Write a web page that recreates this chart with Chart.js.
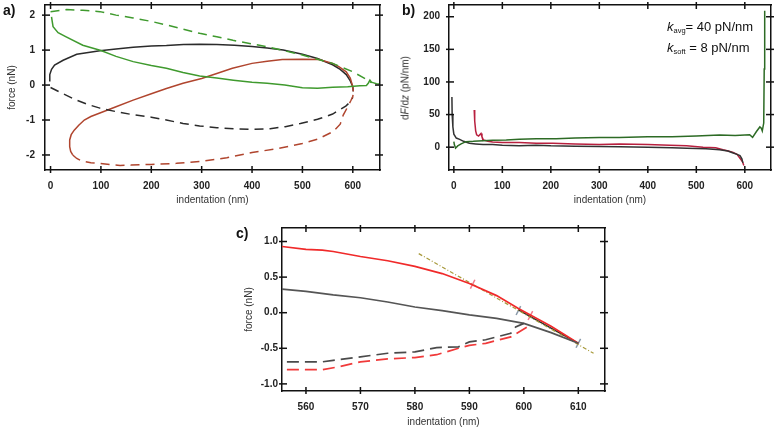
<!DOCTYPE html>
<html>
<head>
<meta charset="utf-8">
<script src="https://cdn.jsdelivr.net/npm/chart.js@4.4.1/dist/chart.umd.min.js"></script>
<style>
  body { margin: 0; background: #fff; }
  #wrap { position: relative; width: 779px; height: 431px; background: #fff; font-family: "Liberation Sans", Arial, sans-serif; }
  canvas { position: absolute; }
  .lab { position: absolute; font-weight: bold; font-size: 14px; line-height: 14px; color: #111; }
  .rot { position: absolute; font-size: 10px; color: #333; white-space: nowrap; transform: translate(-50%, -50%) rotate(-90deg); }
  .kk { position: absolute; font-size: 13px; color: #111; white-space: nowrap; line-height: 14px; }
  .kk sub { font-size: 7.5px; vertical-align: -2px; }
</style>
</head>
<body>
<div id="wrap">
  <canvas id="ca" width="390" height="210" style="left:0;top:0"></canvas>
  <canvas id="cb" width="389" height="210" style="left:390px;top:0"></canvas>
  <canvas id="cc" width="420" height="221" style="left:210px;top:210px"></canvas>
  <div class="lab" style="left:3px;top:3px">a)</div>
  <div class="lab" style="left:402px;top:3px">b)</div>
  <div class="lab" style="left:236px;top:226px">c)</div>
  <div class="rot" style="left:405px;top:88px">d<i>F</i>/d<i>z</i> (pN/nm)</div>
  <div class="kk" style="left:667px;top:20px"><i>k</i><sub>avg</sub>= 40 pN/nm</div>
  <div class="kk" style="left:667px;top:41px"><i>k</i><sub>soft</sub> = 8 pN/nm</div>
</div>
<script>
// ---- panel a: force vs indentation ----
const aBlackX = [-3, -1.5, 2, 8, 25, 52, 98, 130, 164, 200, 230, 264, 296, 330, 365, 400, 430, 462, 500, 530, 560, 575, 587, 595, 600, 601];
const aBlackY = [0.12, 0.3, 0.45, 0.57, 0.71, 0.88, 0.98, 1.03, 1.08, 1.12, 1.13, 1.16, 1.17, 1.16, 1.14, 1.1, 1.06, 1.0, 0.88, 0.76, 0.58, 0.45, 0.3, 0.12, -0.05, -0.18];
const aBlackDashX = [0, 25, 51, 75, 98, 130, 164, 200, 230, 263, 296, 330, 365, 400, 436, 466, 496, 530, 560, 586, 596, 600];
const aBlackDashY = [-0.07, -0.25, -0.43, -0.56, -0.66, -0.76, -0.85, -0.92, -1.0, -1.1, -1.17, -1.22, -1.25, -1.27, -1.25, -1.19, -1.1, -0.98, -0.83, -0.6, -0.47, -0.35];
const aRedX = [44, 40, 38, 38, 41, 47, 56, 67, 80, 98, 130, 164, 200, 230, 263, 300, 330, 361, 400, 430, 460, 500, 533, 560, 573, 587, 595, 600, 601];
const aRedY = [-2.0, -1.9, -1.76, -1.57, -1.42, -1.29, -1.15, -1.0, -0.9, -0.8, -0.62, -0.43, -0.25, -0.1, 0.05, 0.19, 0.33, 0.48, 0.62, 0.68, 0.73, 0.74, 0.73, 0.62, 0.52, 0.38, 0.2, -0.05, -0.18];
const aRedDashX = [44, 52, 62, 80, 98, 120, 138, 160, 200, 250, 300, 350, 400, 450, 500, 530, 561, 575, 581, 590, 596, 600, 601];
const aRedDashY = [-2.0, -2.1, -2.17, -2.22, -2.24, -2.28, -2.3, -2.29, -2.27, -2.24, -2.18, -2.08, -1.93, -1.82, -1.67, -1.55, -1.33, -1.12, -0.86, -0.62, -0.45, -0.33, -0.22];
const aGreenX = [2, 3, 5, 15, 31, 64, 100, 130, 164, 200, 230, 263, 296, 330, 363, 400, 430, 465, 500, 530, 560, 590, 614, 627, 631, 634, 637, 640, 647, 652];
const aGreenY = [1.95, 1.85, 1.67, 1.5, 1.38, 1.14, 0.99, 0.82, 0.67, 0.56, 0.48, 0.36, 0.26, 0.2, 0.14, 0.08, 0.05, 0.0, -0.08, -0.09, -0.06, -0.05, -0.02, -0.01, 0.06, 0.14, 0.08, 0.07, 0.04, 0.03];
const aGreenDashX = [0, 32, 64, 98, 130, 164, 200, 230, 263, 296, 330, 362, 395, 428, 465, 500, 530, 560, 580, 600, 620, 637];
const aGreenDashY = [2.1, 2.16, 2.14, 2.1, 2.0, 1.92, 1.82, 1.72, 1.6, 1.48, 1.38, 1.28, 1.19, 1.1, 0.98, 0.86, 0.74, 0.62, 0.5, 0.38, 0.22, 0.07];

// ---- panel b: dF/dz ----
const bBlackX = [-4, -3.5, -2, 0, 5, 12, 20, 32, 45, 60, 80, 100, 135, 170, 200, 250, 300, 342, 400, 450, 480, 520, 548, 565, 576, 584, 590, 594, 596];
const bBlackY = [77, 50, 31, 20, 14, 12, 9, 6, 5, 4, 4, 3, 2, 3, 2, 1.5, 1, 0.5, 0, -1, -1.5, -2.5, -4, -6, -9, -11, -13, -18, -24];
const bRedX = [42, 43, 45, 47, 51, 56, 58, 61, 70, 80, 100, 135, 170, 204, 250, 300, 342, 400, 445, 480, 514, 540, 555, 566, 576, 584, 590, 595, 598];
const bRedY = [57, 40, 25, 19, 17, 21, 16, 11, 9, 8, 7, 7, 6, 6, 5, 4, 5, 4, 3, 2, 0, -1, -4, -6, -8, -11, -17, -22, -28];
const bGreenX = [0, 1, 3.5, 8, 15, 25, 40, 60, 80, 108, 135, 170, 211, 250, 300, 341, 400, 450, 500, 548, 580, 610, 616, 624, 631, 634, 636, 639, 640, 641];
const bGreenY = [8.5, 4, -1.5, 2, 5, 8.5, 9, 10, 10.5, 11, 12, 13, 13, 14, 15, 15, 16, 16, 17, 18.5, 18, 19, 15, 24, 31, 29, 25, 37, 120, 209];

// ---- panel c: zoom near contact ----
const cRedX = [555.6, 560, 563, 565, 570, 575, 580, 585, 590, 595, 599, 605, 610];
const cRedY = [0.93, 0.89, 0.88, 0.86, 0.79, 0.73, 0.65, 0.55, 0.41, 0.24, 0.06, -0.19, -0.43];
const cGrayX = [555.6, 560, 565, 570, 575, 580, 585, 590, 595, 600, 605, 610];
const cGrayY = [0.33, 0.30, 0.25, 0.21, 0.15, 0.08, 0.03, -0.03, -0.08, -0.15, -0.28, -0.43];
const cGrayDashX = [556.5, 560, 563, 565, 570, 575, 580, 584, 588, 590, 593, 597.6, 598.5, 600];
const cGrayDashY = [-0.69, -0.69, -0.69, -0.67, -0.62, -0.57, -0.55, -0.49, -0.48, -0.41, -0.38, -0.29, -0.2, -0.15];
const cRedDashX = [556.5, 560, 563, 566, 570, 575, 580, 584, 588, 590, 593, 597.6, 600.6];
const cRedDashY = [-0.8, -0.8, -0.8, -0.76, -0.69, -0.65, -0.63, -0.59, -0.5, -0.46, -0.43, -0.34, -0.2];
const cFitX = [599, 610];
const cFitY = [0.04, -0.43];
const cTangentX = [580.7, 612.8];
const cTangentY = [0.83, -0.57];
const cPinkMarkX = [590.6, 601.2];
const cPinkMarkY = [0.40, -0.04];
const cGrayMarkX = [599, 610];
const cGrayMarkY = [0.03, -0.43];

function pts(xs, ys) { return xs.map((x, i) => ({x: x, y: ys[i]})); }

function line(xs, ys, color, dash, width) {
  return {data: pts(xs, ys), borderColor: color, borderWidth: width || 1.5, borderDash: dash || [],
          showLine: true, pointRadius: 0, tension: 0, fill: false};
}

Chart.defaults.font.family = '"Liberation Sans", Arial, sans-serif';
Chart.defaults.color = '#222';

// ticks crossing the frame, on all four sides
const crossTicks = {
  id: 'crossTicks',
  afterDraw(chart) {
    const ctx = chart.ctx, a = chart.chartArea;
    ctx.save();
    ctx.strokeStyle = '#111';
    ctx.lineWidth = 1.5;
    Object.values(chart.scales).forEach(s => {
      s.ticks.forEach(t => {
        const p = s.getPixelForValue(t.value);
        ctx.beginPath();
        if (s.position === 'bottom') { ctx.moveTo(p, a.bottom - 4); ctx.lineTo(p, a.bottom + 3); }
        if (s.position === 'top') { ctx.moveTo(p, a.top - 3); ctx.lineTo(p, a.top + 4); }
        if (s.position === 'left') { ctx.moveTo(a.left - 3, p); ctx.lineTo(a.left + 5, p); }
        if (s.position === 'right') { ctx.moveTo(a.right - 5, p); ctx.lineTo(a.right + 3, p); }
        ctx.stroke();
      });
    });
    ctx.restore();
  }
};

// fixed box size, and no extra room asked for the end labels
function fix(prop, size) {
  return s => {
    s[prop] = size;
    s.paddingTop = 0; s.paddingBottom = 0; s.paddingLeft = 0; s.paddingRight = 0;
  };
}

function axes(cfg) {
  const border = {display: true, color: '#111', width: 1.5};
  const grid = {display: false, drawTicks: false};
  const tickFont = {size: 10, weight: 'bold'};
  const yCb = cfg.yFmt ? (v => v.toFixed(cfg.yFmt)) : undefined;
  return {
    x: {type: 'linear', position: 'bottom', min: cfg.xMin, max: cfg.xMax, border: border, grid: grid,
        ticks: {stepSize: cfg.xStep, includeBounds: false, padding: cfg.xPad, font: tickFont, maxRotation: 0},
        title: {display: true, text: 'indentation (nm)', color: '#333', font: {size: 10}, padding: {top: 0, bottom: cfg.xtPad}},
        afterFit: fix('height', cfg.bottom)},
    x2: {type: 'linear', position: 'top', min: cfg.xMin, max: cfg.xMax, border: border, grid: grid,
        ticks: {display: false, stepSize: cfg.xStep, includeBounds: false},
        afterFit: fix('height', cfg.top)},
    y: {type: 'linear', position: 'left', min: cfg.yMin, max: cfg.yMax, border: border, grid: grid,
        ticks: {stepSize: cfg.yStep, includeBounds: false, padding: cfg.yPad, font: tickFont, callback: yCb},
        title: {display: !!cfg.yTitle, text: cfg.yTitle || '', color: '#333', font: {size: 10}, padding: {top: cfg.ytPad, bottom: 0}},
        afterFit: fix('width', cfg.left)},
    y2: {type: 'linear', position: 'right', min: cfg.yMin, max: cfg.yMax, border: border, grid: grid,
        ticks: {display: false, stepSize: cfg.yStep, includeBounds: false},
        afterFit: fix('width', cfg.right)}
  };
}

function makeChart(id, datasets, cfg) {
  return new Chart(document.getElementById(id), {
    type: 'scatter',
    data: {datasets: datasets},
    options: {
      responsive: false, animation: false, devicePixelRatio: 1,
      layout: {padding: 0, autoPadding: false},
      plugins: {legend: {display: false}, tooltip: {enabled: false}},
      scales: axes(cfg)
    },
    plugins: [crossTicks]
  });
}

const cA = {black: '#2b2b2b', red: '#b0452e', green: '#3f9a2e'};
makeChart('ca', [
  line(aGreenDashX, aGreenDashY, cA.green, [9, 6]),
  line(aRedDashX, aRedDashY, cA.red, [9, 6]),
  line(aBlackDashX, aBlackDashY, cA.black, [9, 6]),
  line(aGreenX, aGreenY, cA.green),
  line(aRedX, aRedY, cA.red),
  line(aBlackX, aBlackY, cA.black)
], {xMin: -11, xMax: 654, xStep: 100, yMin: -2.43, yMax: 2.29, yStep: 1,
    left: 45, right: 10, top: 5, bottom: 40, xPad: 10, yPad: 10, xtPad: 4, ytPad: 6, yTitle: 'force (nN)'});

makeChart('cb', [
  line(bGreenX, bGreenY, '#2d6b25'),
  line(bBlackX, bBlackY, '#333333'),
  line(bRedX, bRedY, '#b8203f')
], {xMin: -10, xMax: 654, xStep: 100, yMin: -35, yMax: 218, yStep: 50,
    left: 59, right: 8, top: 5, bottom: 40, xPad: 10, yPad: 9, xtPad: 4, ytPad: 6, yTitle: ''});

function marks(xs, ys, color) {
  return {data: pts(xs, ys), showLine: false, pointStyle: 'line', pointRadius: 5, pointRotation: -63,
          pointBorderColor: color, pointBorderWidth: 1.5, borderColor: color};
}

makeChart('cc', [
  line(cGrayDashX, cGrayDashY, '#4a4a4a', [12, 6], 1.7),
  line(cRedDashX, cRedDashY, '#f03a3a', [12, 6], 1.7),
  line(cGrayX, cGrayY, '#555555', [], 1.7),
  line(cRedX, cRedY, '#f02a2a', [], 1.7),
  line(cTangentX, cTangentY, '#a89a3c', [4, 2, 1, 2], 1.2),
  line(cFitX, cFitY, '#2a2a2a', [], 1.5),
  marks(cPinkMarkX, cPinkMarkY, '#f07a8a'),
  marks(cGrayMarkX, cGrayMarkY, '#8a9aaa')
], {xMin: 555.6, xMax: 614.9, xStep: 10, yMin: -1.10, yMax: 1.19, yStep: 0.5, yFmt: 1,
    left: 72, right: 25, top: 18, bottom: 40, xPad: 10, yPad: 4, xtPad: 3, ytPad: 33, yTitle: 'force (nN)'});
</script>
</body>
</html>
